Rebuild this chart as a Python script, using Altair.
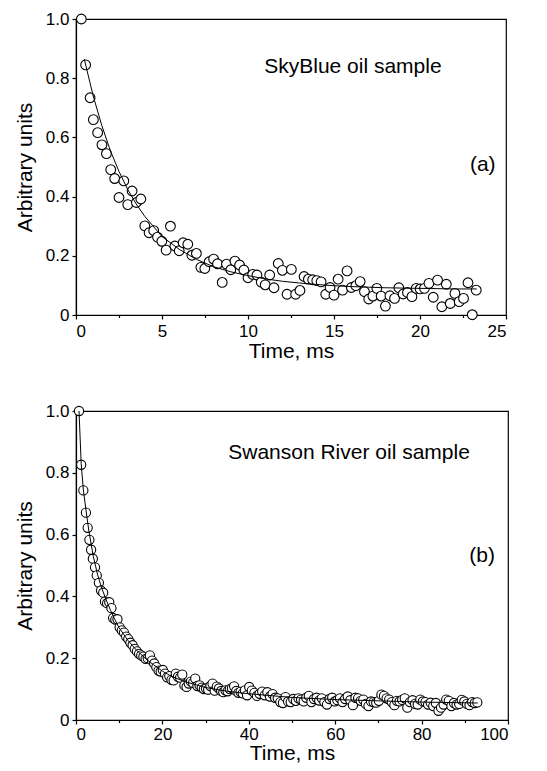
import altair as alt
import pandas as pd

# ---------------- Panel (a): SkyBlue oil sample ----------------
a_time = [0.31,0.56,0.82,1.01,1.26,1.51,1.77,2.02,2.25,2.50,2.78,3.01,3.26,3.51,3.77,
          4.00,4.25,4.52,4.74,4.99,5.24,5.49,5.75,6.00,6.23,6.50,6.74,7.00,7.26,7.49,
          7.74,8.00,8.23,8.50,8.75,9.00,9.24,9.51,9.76,10.00,10.27,10.52,10.77,11.00,11.26,
          11.51,11.76,12.00,12.27,12.52,12.77,13.02,13.26,13.51,13.76,14.00,14.25,14.52,14.77,15.00,
          15.24,15.50,15.76,16.01,16.27,16.52,16.77,17.02,17.26,17.49,17.74,17.99,18.25,18.52,18.77,
          19.02,19.27,19.53,19.78,20.01,20.26,20.52,20.77,21.02,21.27,21.53,21.76,22.03,22.28,22.53,
          22.79,23.04,23.27]
a_value = [1.0,0.845,0.734,0.66,0.616,0.575,0.545,0.491,0.461,0.397,0.453,0.373,0.419,0.38,0.392,
           0.301,0.278,0.285,0.263,0.249,0.219,0.30,0.233,0.217,0.244,0.239,0.202,0.208,0.161,0.157,
           0.18,0.189,0.173,0.11,0.172,0.153,0.182,0.169,0.152,0.126,0.137,0.135,0.111,0.102,0.135,
           0.092,0.174,0.151,0.07,0.154,0.07,0.083,0.13,0.121,0.119,0.116,0.112,0.07,0.093,0.067,
           0.121,0.084,0.149,0.093,0.099,0.113,0.079,0.054,0.064,0.09,0.064,0.03,0.065,0.056,0.092,
           0.071,0.076,0.062,0.09,0.088,0.09,0.107,0.06,0.118,0.028,0.104,0.039,0.073,0.045,0.056,
           0.109,0.001,0.084]
a_fit_time = [0.48,1.0,1.5,2.0,2.5,3.0,3.5,4.0,5.0,6.0,7.0,8.0,9.0,10.0,11.0,12.0,13.0,
              14.0,15.0,16.0,17.0,18.0,19.0,20.0,21.0,22.0,23.3]
a_fit_value = [0.865,0.74,0.64,0.555,0.485,0.425,0.375,0.333,0.265,0.222,0.188,0.163,0.146,
               0.133,0.122,0.114,0.108,0.103,0.099,0.096,0.094,0.092,0.091,0.090,0.089,0.088,0.088]

# ---------------- Panel (b): Swanson River oil sample ----------------
b_time = [0.7,1.2,1.7,2.3,2.7,3.1,3.5,3.9,4.4,4.8,5.3,5.8,6.3,6.7,7.2,7.7,8.2,8.6,9.1,9.6,
          10.1,10.6,11.1,11.6,12.1,12.6,13.1,13.6,14.1,14.6,15.1,15.6,16.1,16.6,17.1,17.6,18.1,18.6,19.1,19.6,
          20.1,20.6,21.1,21.6,22.1,22.6,23.1,23.6,24.1,24.6,25.1,25.6,26.1,26.6,27.1,27.6,28.1,28.6,29.1,29.6,
          30.1,30.6,31.1,31.6,32.1,32.6,33.1,33.6,34.1,34.6,35.1,35.6,36.1,36.6,37.1,37.6,38.1,38.6,39.1,39.6,
          40.1,40.7,41.3,41.9,42.5,43.1,43.7,44.3,44.9,45.5,46.1,46.7,47.3,47.9,48.5,49.1,49.7,
          50.3,50.9,51.5,52.1,52.7,53.3,53.9,54.5,55.1,55.7,56.3,56.9,57.5,58.1,58.7,59.3,59.9,
          60.5,61.1,61.7,62.3,62.9,63.5,64.1,64.7,65.3,65.9,66.5,67.1,67.7,68.3,68.9,69.5,
          70.1,70.7,71.3,71.9,72.5,73.1,73.7,74.3,74.9,75.5,76.1,76.7,77.3,77.9,78.5,79.1,79.7,
          80.3,80.9,81.5,82.1,82.7,83.3,83.9,84.5,85.1,85.7,86.3,86.9,87.5,88.1,88.7,89.3,89.9,
          90.5,91.1,91.7,92.3,92.9]
b_value = [1.000,0.826,0.743,0.671,0.622,0.583,0.551,0.522,0.494,0.468,0.444,0.419,0.412,0.383,0.378,0.381,0.362,0.330,0.325,0.326,
           0.300,0.290,0.283,0.270,0.262,0.250,0.242,0.230,0.222,0.214,0.209,0.205,0.198,0.200,0.209,0.192,0.183,0.171,0.160,0.157,
           0.162,0.150,0.138,0.142,0.130,0.128,0.150,0.140,0.137,0.147,0.112,0.107,0.118,0.124,0.120,0.134,0.110,0.112,0.105,0.100,
           0.102,0.098,0.110,0.118,0.095,0.108,0.102,0.094,0.090,0.096,0.093,0.100,0.103,0.109,0.094,0.088,0.091,0.086,0.096,0.080,
           0.107,0.095,0.088,0.078,0.085,0.092,0.080,0.090,0.076,0.084,0.072,0.070,0.058,0.055,0.074,0.060,0.058,
           0.068,0.062,0.070,0.066,0.060,0.072,0.078,0.058,0.068,0.072,0.063,0.070,0.058,0.050,0.068,0.072,0.060,
           0.064,0.070,0.058,0.068,0.076,0.064,0.048,0.072,0.070,0.062,0.066,0.052,0.045,0.060,0.058,0.056,
           0.062,0.082,0.078,0.070,0.066,0.058,0.048,0.062,0.060,0.065,0.070,0.040,0.058,0.064,0.052,0.050,0.066,
           0.060,0.058,0.050,0.056,0.045,0.055,0.030,0.040,0.050,0.066,0.062,0.045,0.055,0.050,0.052,0.065,0.060,
           0.052,0.048,0.058,0.055,0.057]
b_fit_time = [0.7,1.2,1.7,2.4,3.0,4.0,5.0,6.0,7.0,8.0,9.0,10.0,12.0,14.0,16.0,18.0,20.0,22.0,
              25.0,30.0,35.0,40.0,50.0,60.0,70.0,80.0,93.0]
b_fit_value = [1.0,0.83,0.745,0.67,0.61,0.53,0.47,0.425,0.388,0.355,0.325,0.298,0.258,0.226,
               0.200,0.178,0.158,0.142,0.125,0.105,0.093,0.085,0.073,0.066,0.062,0.058,0.055]

assert len(a_time) == len(a_value)
assert len(b_time) == len(b_value)

y_ticks = [0, 0.1, 0.2, 0.3, 0.4, 0.5, 0.6, 0.7, 0.8, 0.9, 1.0]
a_xticks = [0, 2.5, 5, 7.5, 10, 12.5, 15, 17.5, 20, 22.5, 25]
b_xticks = [0, 10, 20, 30, 40, 50, 60, 70, 80, 90, 100]

FONT = "Liberation Sans"

y_label_expr = "round(datum.value*10) % 2 == 1 ? '' : (datum.value == 0 ? '0' : format(datum.value, '.1f'))"


def y_axis():
    return alt.Axis(
        values=y_ticks, labelExpr=y_label_expr, title="Arbitrary units",
        tickSize={"condition": {"test": "round(datum.value*10) % 2 == 0", "value": 4}, "value": 2.5},
        labelPadding=3, titlePadding=10, grid=False,
    )


def x_axis(ticks, major, lpad, tpad):
    return alt.Axis(
        values=ticks, title="Time, ms",
        labelExpr=f"datum.value % {major} == 0 ? format(datum.value, 'd') : ''",
        tickSize={"condition": {"test": f"datum.value % {major} == 0", "value": 4}, "value": 2.5},
        labelPadding=lpad, titlePadding=tpad, grid=False,
    )


def panel(t, v, ft, fv, xmax, xticks, major, label, lx, ly, tag, tx, ty, w, h, size, lpad, tpad):
    df = pd.DataFrame({"t": t, "v": v})
    dfit = pd.DataFrame({"t": ft, "v": fv})
    x = alt.X("t:Q", scale=alt.Scale(domain=[0, xmax], nice=False),
              axis=x_axis(xticks, major, lpad, tpad))
    y = alt.Y("v:Q", scale=alt.Scale(domain=[0, 1], nice=False), axis=y_axis())
    pts = alt.Chart(df).mark_circle(
        fill="white", stroke="black", strokeWidth=1.1, size=size, opacity=1
    ).encode(x=x, y=y)
    line = alt.Chart(dfit).mark_line(color="black", strokeWidth=1).encode(x="t:Q", y="v:Q")
    ann = pd.DataFrame({"t": [lx, tx], "v": [ly, ty], "txt": [label, tag]})
    txt = alt.Chart(ann).mark_text(font=FONT, fontSize=21, color="black", align="center").encode(
        x="t:Q", y="v:Q", text="txt:N")
    return alt.layer(pts, line, txt).properties(width=w, height=h)


top = panel(a_time, a_value, a_fit_time, a_fit_value, 25, a_xticks, 5,
            "SkyBlue oil sample", 16.1, 0.838, "(a)", 23.65, 0.507, 430, 296, 95, 4, 1)
bottom = panel(b_time, b_value, b_fit_time, b_fit_value, 100, b_xticks, 20,
               "Swanson River oil sample", 63.2, 0.865, "(b)", 94.0, 0.53, 432, 309, 85, 2, 0)

chart = alt.vconcat(top, bottom, spacing=39).properties(
    padding={"left": 5, "top": 1, "right": 5, "bottom": 0},
    background="white",
).configure_view(
    stroke="black", strokeWidth=1.2
).configure_axis(
    labelFont=FONT, titleFont=FONT, labelFontSize=17, titleFontSize=21,
    titleFontWeight="normal", labelColor="black", titleColor="black",
    domainColor="black", tickColor="black", domainWidth=1.2, tickWidth=1.2,
)

chart.save("out.html", embed_options={"renderer": "svg", "actions": False})
